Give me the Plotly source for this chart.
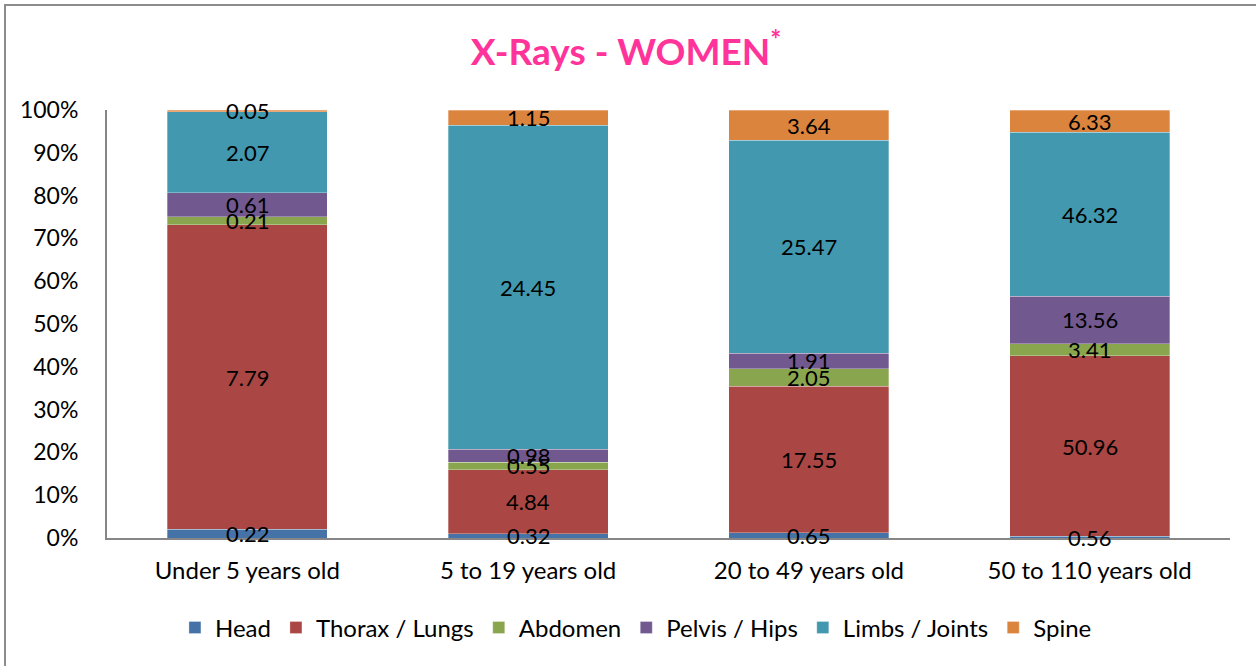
import plotly.graph_objects as go

age_groups = ["Under 5 years old", "5 to 19 years old", "20 to 49 years old", "50 to 110 years old"]

head = [0.22, 0.32, 0.65, 0.56]
thorax = [7.79, 4.84, 17.55, 50.96]
abdomen = [0.21, 0.55, 2.05, 3.41]
pelvis = [0.61, 0.98, 1.91, 13.56]
limbs = [2.07, 24.45, 25.47, 46.32]
spine = [0.05, 1.15, 3.64, 6.33]

series = [
    ("Head", head, "#4572A7"),
    ("Thorax / Lungs", thorax, "#AA4643"),
    ("Abdomen", abdomen, "#89A54E"),
    ("Pelvis / Hips", pelvis, "#71588F"),
    ("Limbs / Joints", limbs, "#4198AF"),
    ("Spine", spine, "#DB843D"),
]

FONT = "Lato, Carlito, Calibri, sans-serif"

fig = go.Figure()

for name, vals, color in series:
    fig.add_trace(go.Bar(
        name=name,
        x=age_groups,
        y=vals,
        marker=dict(color=color, line=dict(color="rgba(255,255,255,0.6)", width=0.5)),
    ))

# data labels: raw value, centred in each (normalised) segment
totals = [sum(s[1][i] for s in series) for i in range(len(age_groups))]
for i, cat in enumerate(age_groups):
    cum = 0
    for name, vals, color in series:
        v = vals[i]
        fig.add_annotation(
            x=cat, y=(cum + v / 2) / totals[i] * 100,
            text=f"{v:.2f}", showarrow=False,
            font=dict(size=22, color="black", family=FONT),
        )
        cum += v

fig.update_layout(
    barmode="stack",
    barnorm="percent",
    bargap=0.43,
    width=1256,
    height=666,
    margin=dict(l=107, r=26, t=110, b=128),
    paper_bgcolor="white",
    plot_bgcolor="white",
    font=dict(family=FONT, size=22, color="black"),
    title=dict(
        text="<b>X-Rays - WOMEN<sup>*</sup></b>",
        x=(626 - 107) / 1123, xanchor="center", xref="paper",
        y=1 - 52 / 666, yanchor="middle",
        font=dict(family=FONT, size=37, color="#FF3399"),
    ),
    legend=dict(
        orientation="h",
        x=0.471, xanchor="center",
        y=-0.21, yanchor="middle",
        font=dict(size=24),
        traceorder="normal",
        itemwidth=30,
    ),
    showlegend=True,
)

fig.update_yaxes(
    range=[0, 100],
    dtick=10,
    ticksuffix="%",
    showgrid=False,
    showline=True,
    linecolor="#868686",
    linewidth=2,
    ticks="",
    tickfont=dict(size=23),
    ticklabelstandoff=22,
    zeroline=False,
)

fig.update_xaxes(
    showgrid=False,
    showline=True,
    linecolor="#868686",
    linewidth=2,
    ticks="",
    tickfont=dict(size=24),
    ticklabelstandoff=10,
)

# chart border
fig.add_shape(
    type="rect", xref="paper", yref="paper",
    x0=(5 - 107) / 1123, x1=(1262 - 107) / 1123,
    y0=(538 - 690) / 428, y1=1 + (110 - 5) / 428,
    line=dict(color="#8c8c8c", width=2),
    layer="below",
)

fig.write_html(
    "out.html",
    config={"displayModeBar": False},
    post_script="document.body.style.margin='0';",
)
